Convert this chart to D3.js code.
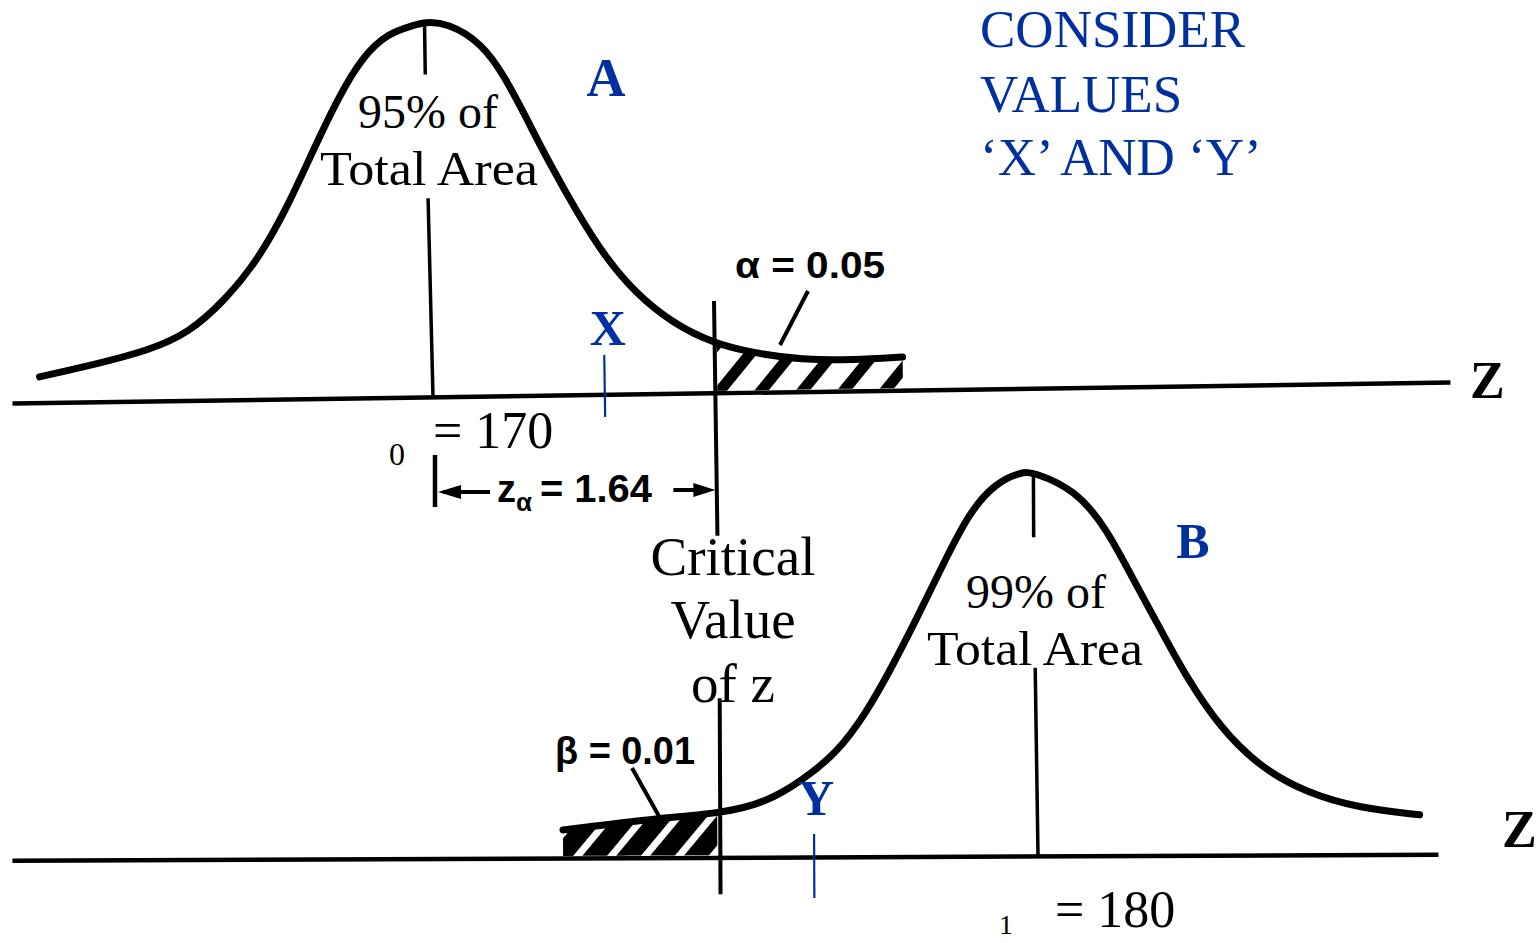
<!DOCTYPE html>
<html><head><meta charset="utf-8">
<script src="https://cdn.jsdelivr.net/npm/d3@7"></script>
<style>html,body{margin:0;padding:0;background:#fff;overflow:hidden}</style>
</head><body><svg id="c" width="1537" height="943"></svg>
<script>
// ---------- data ----------
const mu0 = 170, mu1 = 180;
const criticalValue = 174.75;
const alphaLabel = "α = 0.05", betaLabel = "β = 0.01", zAlphaValue = "= 1.64";
const markX = 172.89, markY = 176.35;
const axisExtentA = [163.09, 186.86];
const axisExtentB = [163.09, 186.66];
// curve A (H0): value, relative height
const curveA_x = [163.55,164.55,165.37,166.03,166.64,167.19,167.69,168.13,168.56,168.96,169.39,169.83,170.00,170.38,170.94,171.32,171.70,172.03,172.48,172.93,173.42,174.02,174.68,175.34,176.17,176.99,177.82];
const curveA_h = [0.069,0.103,0.136,0.180,0.267,0.372,0.512,0.663,0.803,0.909,0.972,0.992,1.000,0.997,0.942,0.850,0.727,0.619,0.485,0.366,0.269,0.188,0.133,0.105,0.084,0.082,0.088];
// curve B (H1)
const curveB_x = [172.20,173.80,174.84,175.57,176.17,176.73,177.22,177.65,178.05,178.48,178.93,179.37,179.80,180.00,180.69,181.19,181.62,182.07,182.51,183.06,183.72,184.50,185.37,186.36];
const curveB_h = [0.073,0.103,0.115,0.143,0.201,0.270,0.374,0.494,0.616,0.754,0.894,0.972,1.000,1.000,0.953,0.856,0.726,0.595,0.465,0.334,0.229,0.161,0.121,0.103];
const headingLines = ["CONSIDER", "VALUES", "‘X’ AND ‘Y’"];
const criticalLines = ["Critical", "Value", "of z"];
const areaLabelA = ["95% of", "Total Area"];
const areaLabelB = ["99% of", "Total Area"];
const meanLabelA = ["0", "= 170"];
const meanLabelB = ["1", "= 180"];

// ---------- drawing ----------
const BLUE = "#0030a0";
const SERIF = "'Liberation Serif', 'Times New Roman', serif";
const SANS = "'Liberation Sans', Arial, sans-serif";
const svg = d3.select("#c");
svg.append("rect").attr("width", 1537).attr("height", 943).attr("fill", "#fff");

const x = d3.scaleLinear().domain([mu0, mu1]).range([430, 1035]);
const yA = d3.scaleLinear().domain([0, 1]).range([397, 22]);
const yB = d3.scaleLinear().domain([0, 1]).range([856, 472]);

const ptsA = curveA_x.map((v, i) => [v, curveA_h[i]]);
const ptsB = curveB_x.map((v, i) => [v, curveB_h[i]]);

const defs = svg.append("defs");
const pA = defs.append("pattern").attr("id", "hatchA").attr("patternUnits", "userSpaceOnUse")
  .attr("width", 32).attr("height", 32).attr("patternTransform", "rotate(40)");
pA.append("rect").attr("width", 32).attr("height", 32).attr("fill", "#fff");
pA.append("rect").attr("width", 11).attr("height", 32).attr("fill", "#000");
const pB = defs.append("pattern").attr("id", "hatchB").attr("patternUnits", "userSpaceOnUse")
  .attr("width", 26).attr("height", 26).attr("patternTransform", "rotate(40)");
pB.append("rect").attr("width", 26).attr("height", 26).attr("fill", "#000");
pB.append("rect").attr("width", 7).attr("height", 26).attr("fill", "#fff");
defs.append("clipPath").attr("id", "clipA").append("rect")
  .attr("x", x(criticalValue)).attr("y", 0).attr("width", 1537).attr("height", 943);
defs.append("clipPath").attr("id", "clipB").append("rect")
  .attr("x", 0).attr("y", 0).attr("width", x(criticalValue)).attr("height", 943);

const gA = svg.append("g").attr("transform", "rotate(-0.84,430,397)");
const gB = svg.append("g").attr("transform", "rotate(-0.24,1035,856)");

function panel(g, y, pts, center, axisExt, hatchId, clipId, centerTop, centerBottom, critRange, critShift, markVal, markRange) {
  // baseline axis
  const axScale = x.copy().domain(axisExt).range(axisExt.map(x));
  const ax = g.append("g").attr("transform", `translate(0,${y(0)})`)
    .call(d3.axisBottom(axScale).tickValues([]).tickSizeOuter(0));
  ax.select(".domain").attr("stroke", "#000").attr("stroke-width", 4.5);
  // hatched tail
  g.append("path").datum(pts)
    .attr("clip-path", `url(#${clipId})`)
    .attr("d", d3.area().x(d => x(d[0])).y0(y(0) - 2).y1(d => y(d[1])).curve(d3.curveBasis))
    .attr("fill", `url(#${hatchId})`).attr("stroke", "none");
  // curve
  g.append("path").datum(pts)
    .attr("d", d3.line().x(d => x(d[0])).y(d => y(d[1])).curve(d3.curveBasis))
    .attr("fill", "none").attr("stroke", "#000").attr("stroke-width", 7).attr("stroke-linecap", "round");
  // center lines
  g.append("line").attr("x1", x(center)).attr("x2", x(center)).attr("y1", y(1)).attr("y2", y(centerTop))
    .attr("stroke", "#000").attr("stroke-width", 3.5);
  g.append("line").attr("x1", x(center) + 1).attr("x2", x(center) + 3).attr("y1", y(centerBottom)).attr("y2", y(0))
    .attr("stroke", "#000").attr("stroke-width", 3.5);
  // critical line
  g.append("line").attr("x1", x(criticalValue) + critShift).attr("x2", x(criticalValue) + critShift)
    .attr("y1", y(critRange[0])).attr("y2", y(critRange[1]))
    .attr("stroke", "#000").attr("stroke-width", 4);
  // blue mark
  g.append("line").attr("x1", x(markVal)).attr("x2", x(markVal))
    .attr("y1", y(markRange[0])).attr("y2", y(markRange[1]))
    .attr("stroke", BLUE).attr("stroke-width", 2.2);
}

panel(gA, yA, ptsA, mu0, axisExtentA, "hatchA", "clipA", 0.86, 0.53, [0.245, -0.381], -2, markX, [0.105, -0.06]);
panel(gB, yB, ptsB, mu1, axisExtentB, "hatchB", "clipB", 0.83, 0.49, [0.414, -0.096], 3, markY, [0.06, -0.107]);

// ---------- text ----------
function txt(xp, yp, s, opts) {
  const t = svg.append("text").attr("x", xp).attr("y", yp).text(s)
    .attr("font-family", opts.family || SERIF).attr("font-size", opts.size)
    .attr("font-weight", opts.weight || "normal").attr("fill", opts.color || "#000")
    .attr("text-anchor", opts.anchor || "start");
  if (opts.len) t.attr("textLength", opts.len).attr("lengthAdjust", "spacingAndGlyphs");
  return t;
}
// heading
headingLines.forEach((s, i) => txt(980, [47, 112, 175][i], s, {size: 53, color: BLUE}));
// panel letters and marks
txt(606, 96, "A", {size: 54, weight: "bold", color: BLUE, anchor: "middle"});
txt(1193, 558, "B", {size: 50, weight: "bold", color: BLUE, anchor: "middle"});
txt(x(markX) + 3, 345, "X", {size: 50, weight: "bold", color: BLUE, anchor: "middle"});
txt(x(markY) + 2, 815, "Y", {size: 50, weight: "bold", color: BLUE, anchor: "middle"});
// Z axis labels
txt(1470, 398, "Z", {size: 52, weight: "bold"});
txt(1502, 847, "Z", {size: 52, weight: "bold"});
// area labels
txt(428, 128, areaLabelA[0], {size: 48, anchor: "middle"});
txt(320, 185, areaLabelA[1], {size: 48, len: 218});
txt(1036, 608, areaLabelB[0], {size: 48, anchor: "middle"});
txt(927, 665, areaLabelB[1], {size: 48, len: 216});
criticalLines.forEach((s, i) => txt(733, [575, 638, 702][i], s, {size: 55, anchor: "middle"}));
// mean labels
txt(389, 465, meanLabelA[0], {size: 32});
txt(433, 448, meanLabelA[1], {size: 52});
txt(999, 934, meanLabelB[0], {size: 28});
txt(1055, 927, meanLabelB[1], {size: 52});
// scanned hand-lettered labels
txt(735, 278, alphaLabel, {family: SANS, size: 36, weight: "bold", len: 150});
txt(555, 764, betaLabel, {family: SANS, size: 38, weight: "bold", len: 140});
// leaders
svg.append("line").attr("x1", 808).attr("y1", 291).attr("x2", 780).attr("y2", 345)
  .attr("stroke", "#000").attr("stroke-width", 4);
svg.append("line").attr("x1", 632).attr("y1", 768).attr("x2", 660).attr("y2", 818)
  .attr("stroke", "#000").attr("stroke-width", 4);
// z_alpha dimension
const zx0 = x(mu0) + 5, zx1 = x(criticalValue) - 2;
svg.append("line").attr("x1", zx0).attr("x2", zx0).attr("y1", 455).attr("y2", 507)
  .attr("stroke", "#000").attr("stroke-width", 4.5);
svg.append("line").attr("x1", zx0 + 8).attr("x2", zx0 + 55).attr("y1", 492).attr("y2", 492)
  .attr("stroke", "#000").attr("stroke-width", 4);
svg.append("path").attr("d", `M${zx0 + 3},492 L${zx0 + 26},485 L${zx0 + 26},499 Z`).attr("fill", "#000");
svg.append("line").attr("x1", zx1 - 42).attr("x2", zx1 - 10).attr("y1", 490).attr("y2", 490)
  .attr("stroke", "#000").attr("stroke-width", 4);
svg.append("path").attr("d", `M${zx1},490 L${zx1 - 22},483 L${zx1 - 22},497 Z`).attr("fill", "#000");
const zt = svg.append("text").attr("x", 497).attr("y", 502)
  .attr("font-family", SANS).attr("font-weight", "bold").attr("font-size", 38).attr("fill", "#000");
zt.append("tspan").text("z");
zt.append("tspan").attr("font-size", 26).attr("dy", 9).text("α");
zt.append("tspan").attr("dy", -9).attr("dx", 8).attr("textLength", 112).attr("lengthAdjust", "spacingAndGlyphs").text(zAlphaValue);
</script></body></html>
